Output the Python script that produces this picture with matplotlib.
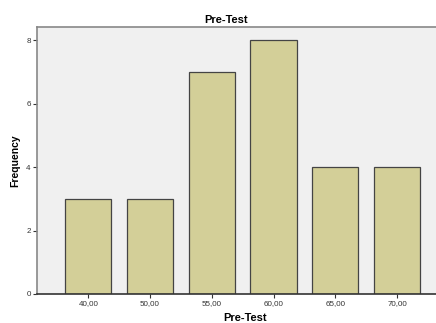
import matplotlib
matplotlib.use("Agg")
import matplotlib.pyplot as plt

categories = ["40,00", "50,00", "55,00", "60,00", "65,00", "70,00"]
frequency = [3, 3, 7, 8, 4, 4]

plt.rcParams['font.family'] = ['Liberation Sans', 'DejaVu Sans']

fig = plt.figure(figsize=(4.36, 3.23), dpi=100)
ax = fig.add_axes([37 / 436, 1 - 294 / 323, 1 - 37 / 436, (294 - 27) / 323])
ax.set_facecolor('#f0f0f0')

pos = list(range(len(categories)))
ax.bar(pos, frequency, width=0.75, color='#d3cf98', edgecolor='#444444', linewidth=0.9)

ax.set_xlim(-0.83, 5.63)
ax.set_ylim(0, 8.42)
ax.set_xticks(pos)
ax.set_xticklabels(categories, fontsize=5.8, color='#333333')
ax.set_yticks([0, 2, 4, 6, 8])
ax.set_yticklabels(['0', '2', '4', '6', '8'], fontsize=5.8, color='#333333')
ax.tick_params(axis='both', length=3, width=0.8, color='#333333', pad=1.5)

for side in ['left', 'top', 'bottom']:
    ax.spines[side].set_color('#888888')
    ax.spines[side].set_linewidth(1.2)
ax.spines['bottom'].set_color('#333333')
ax.spines['right'].set_visible(False)

ax.set_title('Pre-Test', fontsize=8, fontweight='bold', pad=3, x=0.474)
ax.set_xlabel('Pre-Test', fontsize=8, fontweight='bold', labelpad=4, x=0.521)
ax.set_ylabel('Frequency', fontsize=7.5, fontweight='bold', labelpad=4)

fig.savefig('out.png', dpi=100)
